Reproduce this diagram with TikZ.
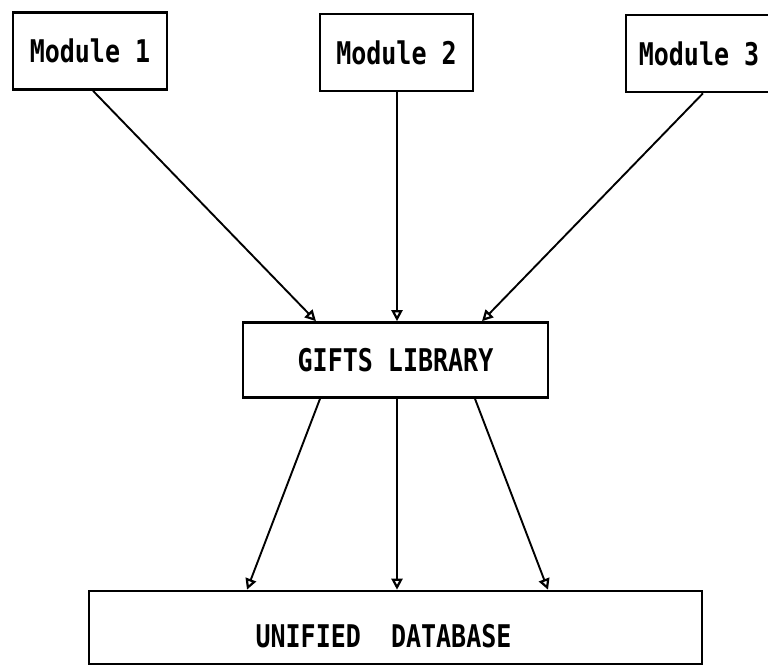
\documentclass[tikz,border=0pt]{standalone}
\usepackage{fontspec}
\setmonofont{DejaVu Sans Mono}
\usepackage{graphicx}
\usetikzlibrary{arrows.meta}
\newcommand\plt[1]{\scalebox{1}[1.25]{\ttfamily\bfseries\fontsize{25}{25}\selectfont #1}}
\begin{document}
\begin{tikzpicture}[x=1pt,y=-1pt,
  box/.style={draw,line width=2.6pt,inner sep=0pt,anchor=center},
  arr/.style={line width=1.9pt,-{Triangle[open,length=11pt,width=11pt,line width=2.2pt]}}]
\useasboundingbox (0,0) rectangle (768,666);
\clip (0,0) rectangle (768,666);
\node[box,minimum width=154pt,minimum height=77pt] (m1) at (90,51) {\plt{Module 1}};
\node[box,minimum width=153pt,minimum height=77pt] (m2) at (396.5,52.5) {\plt{Module 2}};
\node[box,minimum width=146pt,minimum height=77pt] (m3) at (699,53.5) {\plt{Module 3}};
\node[box,minimum width=305pt,minimum height=75pt] (gl) at (395.5,360) {\plt{GIFTS LIBRARY}};
\node[box,minimum width=613pt,minimum height=73pt,
  label={[xshift=-12pt,yshift=-9pt]center:\plt{UNIFIED\ \ DATABASE}}] (db) at (395.5,627.5) {};
\draw[arr] ([xshift=3pt]m1.south) -- ([xshift=-79.5pt]gl.north);
\draw[arr] ([xshift=0.5pt]m2.south) -- ([xshift=1.5pt]gl.north);
\draw[arr] ([xshift=4pt]m3.south) -- ([xshift=86.5pt]gl.north);
\draw[arr] ([xshift=-75.5pt]gl.south) -- ([xshift=-148.5pt]db.north);
\draw[arr] ([xshift=1.5pt]gl.south) -- ([xshift=1.5pt]db.north);
\draw[arr] ([xshift=79.5pt]gl.south) -- ([xshift=152.5pt]db.north);
\end{tikzpicture}
\end{document}
